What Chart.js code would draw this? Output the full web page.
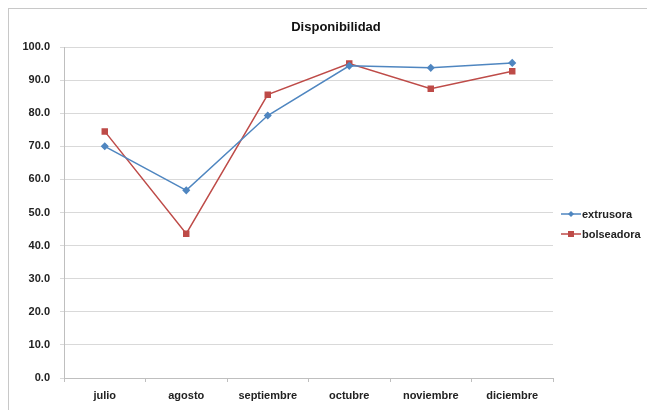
<!DOCTYPE html>
<html>
<head>
<meta charset="utf-8">
<script src="https://cdn.jsdelivr.net/npm/chart.js@4"></script>
<style>
  html, body { margin: 0; padding: 0; background: #fff; }
  #wrap { width: 647px; height: 410px; position: relative; }
</style>
</head>
<body>
<div id="wrap"><canvas id="chart"></canvas></div>
<script>
// Data
const months = ['julio', 'agosto', 'septiembre', 'octubre', 'noviembre', 'diciembre'];
const extrusora = [70.0, 56.7, 79.3, 94.3, 93.7, 95.2];
const bolseadora = [74.5, 43.6, 85.6, 95.0, 87.4, 92.7];
const yTicks = [0, 10, 20, 30, 40, 50, 60, 70, 80, 90, 100];
const chartTitle = 'Disponibilidad';

const BLUE = '#4f86c0';
const RED = '#be4b48';
const FONT = 'Arial, "Liberation Sans", sans-serif';

// Frame, title over the whole chart and legend on the right
const framePlugin = {
    id: 'frame',
    beforeDraw(chart) {
        const ctx = chart.ctx;
        ctx.save();
        ctx.strokeStyle = '#c8c8c8';
        ctx.lineWidth = 1;
        ctx.strokeRect(8.5, 8.5, 700, 500);
        ctx.restore();
    },
    afterDraw(chart) {
        const ctx = chart.ctx;
        ctx.save();
        ctx.fillStyle = '#111';
        ctx.font = 'bold 13px ' + FONT;
        ctx.textAlign = 'center';
        ctx.textBaseline = 'middle';
        ctx.fillText(chartTitle, 336, 27);

        ctx.textAlign = 'left';
        ctx.font = 'bold 11px ' + FONT;
        chart.data.datasets.forEach((ds, i) => {
            const y = 214 + i * 20;
            const x = 561;
            ctx.strokeStyle = ds.borderColor;
            ctx.lineWidth = 1.5;
            ctx.beginPath();
            ctx.moveTo(x, y);
            ctx.lineTo(x + 20, y);
            ctx.stroke();
            ctx.fillStyle = ds.borderColor;
            if (i === 0) {
                ctx.beginPath();
                ctx.moveTo(x + 10, y - 3);
                ctx.lineTo(x + 13, y);
                ctx.lineTo(x + 10, y + 3);
                ctx.lineTo(x + 7, y);
                ctx.closePath();
                ctx.fill();
            } else {
                ctx.fillRect(x + 7, y - 3, 6, 6);
            }
            ctx.fillStyle = '#222';
            ctx.fillText(ds.label, x + 21, y + 1);
        });
        ctx.restore();
    }
};

new Chart(document.getElementById('chart'), {
    type: 'line',
    data: {
        labels: months,
        datasets: [{
            label: 'extrusora',
            data: extrusora,
            borderColor: BLUE,
            backgroundColor: BLUE,
            borderWidth: 1.5,
            pointStyle: 'rectRot',
            pointRadius: 3,
            tension: 0
        }, {
            label: 'bolseadora',
            data: bolseadora,
            borderColor: RED,
            backgroundColor: RED,
            borderWidth: 1.5,
            pointStyle: 'rect',
            pointRadius: 3.5,
            tension: 0
        }]
    },
    options: {
        responsive: true,
        maintainAspectRatio: false,
        animation: false,
        layout: { padding: { top: 47, right: 94, bottom: 0, left: 0 } },
        plugins: {
            legend: { display: false },
            tooltip: { enabled: false },
            title: { display: false }
        },
        scales: {
            x: {
                offset: true,
                grid: { drawOnChartArea: false, offset: true, tickLength: 4, color: '#bfbfbf' },
                border: { color: '#bfbfbf' },
                ticks: {
                    color: '#222',
                    padding: 7,
                    maxRotation: 0,
                    font: { family: FONT, size: 11, weight: 'bold' }
                },
                afterFit(scale) { scale.height = 32; }
            },
            y: {
                min: 0,
                max: 100,
                afterBuildTicks(scale) { scale.ticks = yTicks.map(v => ({ value: v })); },
                grid: { color: '#d9d9d9', tickLength: 4 },
                border: { color: '#bfbfbf' },
                ticks: {
                    color: '#222',
                    padding: 10,
                    callback: v => v.toFixed(1),
                    font: { family: FONT, size: 11, weight: 'bold' }
                },
                afterFit(scale) { scale.width = 64; }
            }
        }
    },
    plugins: [framePlugin]
});
</script>
</body>
</html>
